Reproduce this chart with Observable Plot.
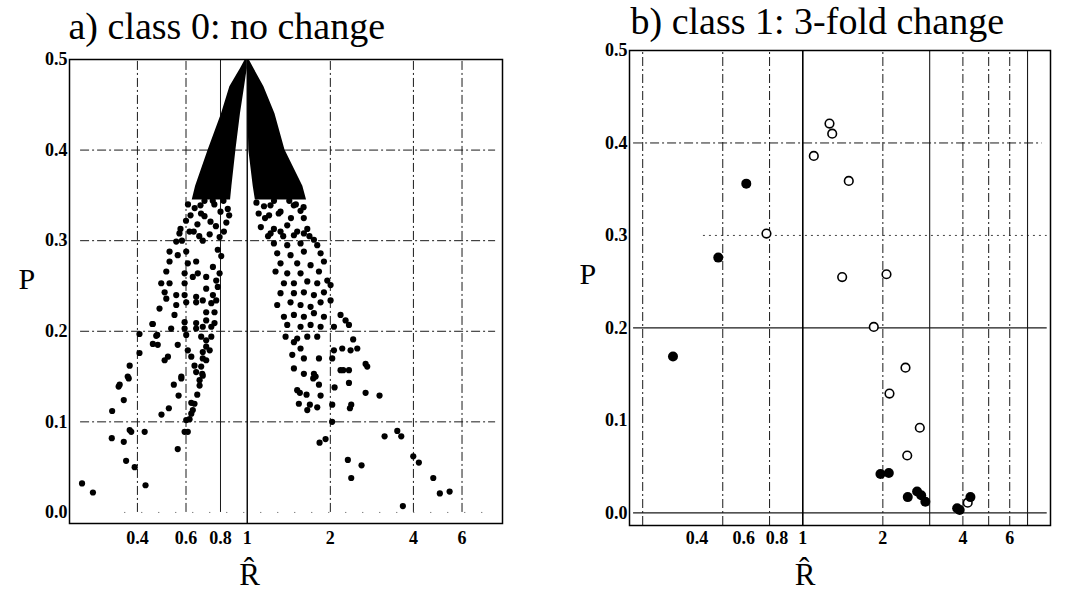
<!DOCTYPE html>
<html><head><meta charset="utf-8">
<script src="https://cdn.jsdelivr.net/npm/d3@7"></script>
<script src="https://cdn.jsdelivr.net/npm/@observablehq/plot@0.6"></script>
<style>
html,body{margin:0;padding:0;background:#fff;}
#wrap{display:flex;width:1074px;height:594px;overflow:hidden;}
#wrap svg{display:block;flex:none;font-family:'Liberation Serif','Times New Roman',serif;}
svg [aria-label$="tick label"]{font-weight:bold;}
</style></head><body><div id="wrap"></div>
<script>
// ---------- texts ----------
const titleA = "a) class 0: no change";
const titleB = "b) class 1: 3-fold change";
const yLabel = "P";
const xLabel = "R\u0302";
const xTickLabels = [0.4, 0.6, 0.8, 1, 2, 4, 6];
const yTickLabels = [0, 0.1, 0.2, 0.3, 0.4, 0.5];

// ---------- panel a: dense wedge boundaries ----------
const wedgeP          = [0.5,   0.49,  0.47,  0.44,  0.40,  0.36,  0.345];
const wedgeLeftOuter  = [0.985, 0.946, 0.865, 0.807, 0.722, 0.650, 0.632];
const wedgeLeftInner  = [1.0,   1.0,   0.978, 0.945, 0.910, 0.880, 0.870];
const wedgeRightInner = [1.0,   1.0,   1.005, 1.006, 1.013, 1.051, 1.07];
const wedgeRightOuter = [1.015, 1.057, 1.149, 1.260, 1.370, 1.590, 1.64];

// ---------- panel a: scattered points ----------
const aR = [
 0.553,0.523,0.560,0.601,0.523,0.609,0.653,0.662,0.509,0.593,0.635,0.488,0.523,0.593,0.710,0.751,0.772,0.710,0.502,0.553,
 0.593,0.653,0.690,0.751,0.509,0.481,0.553,0.601,0.653,0.741,0.545,0.710,0.761,0.593,0.653,0.710,0.455,0.530,0.593,0.653,
 0.690,0.741,0.407,0.468,0.601,0.681,0.710,0.455,0.474,0.560,0.710,0.609,0.690,0.407,0.516,0.502,0.627,0.690,0.375,0.369,
 0.644,0.681,0.577,0.690,
 0.568,0.618,0.670,0.731,0.794,0.782,0.805,0.794,0.782,0.772,0.761,0.741,0.731,0.710,
 0.577,0.653,0.687,0.672,0.672,0.659,0.542,0.564,0.345,0.342,0.372,0.357,0.324,0.627,0.644,0.635,0.627,0.520,0.489,0.601,
 0.618,0.593,0.609,0.375,0.380,0.425,0.323,0.357,0.560,0.364,0.391,0.252,0.276,0.428,0.453,0.472,
 0.573,0.623,0.677,0.736,0.800,0.823,0.640,0.716,0.600,0.660,0.700,0.770,0.850,0.840,0.580,0.690,
 0.610,0.645,0.700,0.760,0.820,0.860,0.750,0.680,
 1.214,1.320,1.475,1.603,1.650,1.249,1.396,1.517,1.100,1.120,1.160,1.190,1.350,1.440,1.560,1.680,
 1.080,1.150,1.250,1.420,1.500,1.600,1.300,1.200,
 1.215,1.320,1.476,1.604,1.744,1.793,1.249,1.396,1.560,1.284,1.435,1.604,1.844,1.896,1.320,1.517,1.696,1.266,1.396,1.560,
 1.819,1.950,2.004,1.358,1.476,1.650,1.793,1.320,1.476,1.604,1.744,1.896,1.284,1.435,1.560,1.696,1.844,2.004,1.358,1.476,
 1.604,1.744,1.896,2.178,2.271,2.336,1.396,1.560,1.696,1.844,2.061,1.377,1.517,1.650,1.793,1.476,1.560,1.456,1.604,1.819,
 2.061,2.209,2.504,2.368,1.476,1.604,1.744,1.769,2.032,2.178,2.336,2.684,2.721,2.420,
 1.734,1.819,2.227,2.336,1.517,1.551,1.640,1.844,2.072,2.684,3.015,1.538,1.686,1.793,1.650,2.032,2.381,2.355,1.922,1.828,
 2.030,3.145,3.496,3.614,2.315,2.595,2.381,3.995,4.185,4.720,4.986,5.410,3.663
];
const aP = [
 0.299,0.288,0.284,0.288,0.277,0.275,0.277,0.264,0.266,0.264,0.260,0.253,0.253,0.253,0.260,0.271,0.256,0.247,0.243,0.240,
 0.240,0.238,0.234,0.240,0.236,0.225,0.229,0.232,0.232,0.231,0.218,0.221,0.221,0.210,0.209,0.212,0.208,0.203,0.203,0.203,
 0.205,0.205,0.197,0.195,0.196,0.194,0.190,0.186,0.185,0.185,0.183,0.179,0.177,0.176,0.172,0.168,0.172,0.170,0.162,0.150,
 0.162,0.161,0.150,0.151,
 0.308,0.310,0.305,0.307,0.304,0.290,0.283,0.264,0.249,0.234,0.209,0.194,0.179,0.168,
 0.148,0.155,0.153,0.146,0.140,0.130,0.141,0.129,0.141,0.139,0.148,0.124,0.112,0.121,0.120,0.113,0.109,0.115,0.108,0.102,
 0.103,0.089,0.089,0.091,0.089,0.089,0.082,0.078,0.070,0.057,0.050,0.032,0.022,0.030,0.208,0.196,
 0.313,0.328,0.339,0.321,0.332,0.310,0.310,0.350,0.322,0.318,0.327,0.316,0.335,0.320,0.300,0.300,
 0.340,0.336,0.344,0.340,0.344,0.328,0.344,0.330,
 0.339,0.332,0.339,0.325,0.313,0.313,0.317,0.310,0.330,0.315,0.325,0.305,0.305,0.325,0.333,0.305,
 0.342,0.338,0.344,0.344,0.340,0.337,0.330,0.328,
 0.308,0.310,0.306,0.308,0.301,0.295,0.297,0.295,0.297,0.286,0.284,0.288,0.286,0.277,0.275,0.275,0.273,0.266,0.264,0.264,
 0.266,0.256,0.251,0.253,0.253,0.255,0.253,0.242,0.242,0.243,0.240,0.243,0.229,0.232,0.229,0.227,0.232,0.234,0.216,0.218,
 0.216,0.220,0.216,0.218,0.212,0.207,0.207,0.205,0.207,0.205,0.205,0.194,0.192,0.194,0.194,0.188,0.181,0.174,0.170,0.170,
 0.179,0.181,0.181,0.179,0.159,0.153,0.153,0.150,0.170,0.157,0.157,0.164,0.161,0.191,
 0.148,0.141,0.157,0.143,0.135,0.132,0.130,0.129,0.138,0.132,0.129,0.120,0.119,0.116,0.113,0.119,0.119,0.115,0.081,0.077,
 0.100,0.084,0.090,0.084,0.058,0.052,0.038,0.062,0.055,0.038,0.021,0.023,0.007
];

// ---------- panel b: points ----------
const bFilledR = [0.325, 0.481, 0.613, 1.959, 2.106, 2.481, 2.690, 2.787, 2.890, 3.806, 3.890, 4.270];
const bFilledP = [0.169, 0.276, 0.356, 0.042, 0.043, 0.017, 0.023, 0.019, 0.012, 0.005, 0.003, 0.017];
const bOpenR = [0.730, 1.100, 1.260, 1.290, 1.489, 1.406, 2.064, 1.849, 2.433, 2.118, 2.754, 2.470, 4.170];
const bOpenP = [0.302, 0.386, 0.421, 0.410, 0.359, 0.255, 0.258, 0.201, 0.157, 0.129, 0.092, 0.062, 0.011];

// ---------- grid lines ----------
const aGridXDash = [0.4, 0.6, 2, 4, 6];
const aGridXSolid = [0.8];
const aGridY = [0.1, 0.2, 0.3, 0.4];
const bGridXDash = [0.25, 0.5, 0.75, 2, 4, 5, 6];
const bGridXSolid = [3, 7];
const bGridYDash = [0.4];
const bGridYDot = [0.3];
const bGridYSolid = [0, 0.2];

const font = "Liberation Serif";
const dash = "9,3,2,3";
const ink = "#1a1a1a";

const wedge = wedgeP.map((p, i) => ({P: p, lo: wedgeLeftOuter[i], li: wedgeLeftInner[i], ri: wedgeRightInner[i], ro: wedgeRightOuter[i]}));
const aDots = aR.map((r, i) => ({R: r, P: aP[i]}));
const bFilled = bFilledR.map((r, i) => ({R: r, P: bFilledP[i]}));
const bOpen = bOpenR.map((r, i) => ({R: r, P: bOpenP[i]}));

// x tick labels drawn as text at the x scale positions
const xTicks = (pad) => Plot.text(xTickLabels, {x: d => d, text: d => String(d), frameAnchor: "bottom", lineAnchor: "top", dy: pad, fontSize: 18, fontWeight: "bold", fontFamily: font, ariaLabel: "x-axis tick label"});
const axisY = () => Plot.axisY({ticks: yTickLabels, tickFormat: d => d3.format(".1f")(d), tickSize: 0, tickPadding: 2, label: null, fontSize: 18, fontWeight: "bold", fontFamily: font});

const plotA = Plot.plot({
  width: 530, height: 594,
  marginLeft: 69, marginRight: 28, marginTop: 59, marginBottom: 71,
  style: {fontFamily: font, fontSize: "18px", color: "#000", background: "#fff", overflow: "visible"},
  x: {type: "log", domain: [0.227, 8.41], axis: null},
  y: {domain: [-0.0122, 0.5]},
  marks: [
    Plot.ruleY(aGridY, {x1: 0.249, x2: 7.94, stroke: ink, strokeWidth: 1, strokeDasharray: dash}),
    Plot.ruleY([0], {x1: 0.36, x2: 7.6, stroke: "#555", strokeWidth: 1, strokeDasharray: "1,16"}),
    Plot.ruleX(aGridXDash, {y1: 0, y2: 0.5, stroke: ink, strokeWidth: 1, strokeDasharray: dash}),
    Plot.ruleX(aGridXSolid, {y1: 0, y2: 0.5, stroke: ink, strokeWidth: 1}),
    Plot.ruleX([1], {y1: -0.0122, y2: 0.5, stroke: "#000", strokeWidth: 1.4}),
    Plot.areaX(wedge, {y: "P", x1: "lo", x2: "li", fill: "#000"}),
    Plot.areaX(wedge, {y: "P", x1: "ri", x2: "ro", fill: "#000"}),
    Plot.dot(aDots, {x: "R", y: "P", r: 3.1, fill: "#000"}),
    Plot.frame({stroke: "#000", strokeWidth: 1.5}),
    xTicks(8),
    axisY(),
    Plot.text([titleA], {text: d => d, frameAnchor: "top-left", textAnchor: "start", lineAnchor: "middle", dx: -1, dy: -33, fontSize: 38, fontFamily: font}),
    Plot.text([yLabel], {text: d => d, frameAnchor: "left", lineAnchor: "middle", dx: -51, dy: -12, fontSize: 30, fontFamily: font}),
    Plot.text([xLabel], {text: d => d, x: [1.02], frameAnchor: "bottom", lineAnchor: "middle", dy: 52, fontSize: 31, fontFamily: font})
  ]
});

const plotB = Plot.plot({
  width: 544, height: 594,
  marginLeft: 99, marginRight: 24, marginTop: 50, marginBottom: 69,
  style: {fontFamily: font, fontSize: "18px", color: "#000", background: "#fff", overflow: "visible"},
  x: {type: "log", domain: [0.223, 8.54], axis: null},
  y: {domain: [-0.0137, 0.5]},
  marks: [
    Plot.ruleY(bGridYDash, {x1: 0.231, x2: 7.94, stroke: ink, strokeWidth: 1, strokeDasharray: dash}),
    Plot.ruleY(bGridYDot, {x1: 0.423, x2: 8.3, stroke: "#444", strokeWidth: 1, strokeDasharray: "2,4"}),
    Plot.ruleY(bGridYSolid, {x1: 0.231, x2: 8.3, stroke: ink, strokeWidth: 1.1}),
    Plot.ruleX(bGridXDash, {y1: -0.0137, y2: 0.5, stroke: ink, strokeWidth: 1, strokeDasharray: dash}),
    Plot.ruleX(bGridXSolid, {y1: -0.0137, y2: 0.5, stroke: ink, strokeWidth: 1.1}),
    Plot.ruleX([1], {y1: -0.0137, y2: 0.5, stroke: "#000", strokeWidth: 1.6}),
    Plot.dot(bOpen, {x: "R", y: "P", r: 4.3, fill: "#fff", stroke: "#000", strokeWidth: 1.6}),
    Plot.dot(bFilled, {x: "R", y: "P", r: 5, fill: "#000"}),
    Plot.frame({stroke: "#000", strokeWidth: 1.5}),
    xTicks(6),
    axisY(),
    Plot.text([titleB], {text: d => d, frameAnchor: "top-left", textAnchor: "start", lineAnchor: "middle", dx: 1, dy: -29, fontSize: 38, fontFamily: font}),
    Plot.text([yLabel], {text: d => d, frameAnchor: "left", lineAnchor: "middle", dx: -50, dy: -14, fontSize: 30, fontFamily: font}),
    Plot.text([xLabel], {text: d => d, x: [1.02], frameAnchor: "bottom", lineAnchor: "middle", dy: 50, fontSize: 31, fontFamily: font})
  ]
});

document.getElementById("wrap").append(plotA, plotB);
</script>
</body></html>
